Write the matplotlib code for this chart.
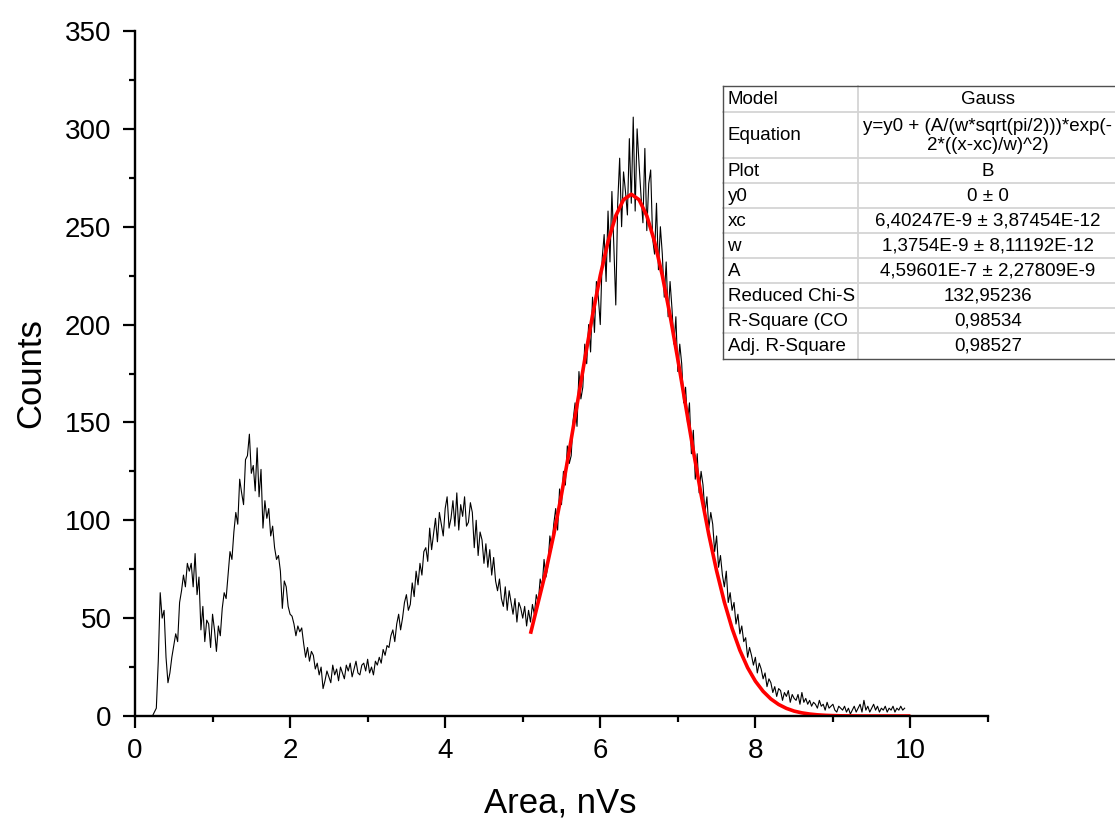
import numpy as np
import matplotlib
matplotlib.use("Agg")
import matplotlib.pyplot as plt
from matplotlib.lines import Line2D
from matplotlib.patches import Rectangle

plt.rcParams['font.family'] = ['Liberation Sans', 'DejaVu Sans']

# ---------------- data ----------------
x_start = 0.2
x_step = 0.025
counts = [
    # 0.200 - 0.675
    0, 0, 2, 4, 28, 63, 50, 54, 30, 17, 22, 30, 36, 42, 38, 58, 64, 72, 66, 78,
    # 0.700 - 1.175
    74, 78, 66, 83, 62, 71, 44, 56, 38, 49, 47, 35, 52, 44, 33, 46, 41, 55, 63, 60,
    # 1.200 - 1.675
    72, 84, 80, 94, 104, 98, 121, 114, 108, 131, 133, 144, 124, 128, 115, 137, 112, 126, 96, 110,
    # 1.700 - 2.175
    101, 106, 92, 97, 86, 80, 82, 74, 55, 69, 66, 56, 52, 51, 47, 41, 46, 43, 45, 37,
    # 2.200 - 2.675
    30, 35, 28, 33, 31, 24, 27, 21, 25, 14, 18, 23, 20, 17, 26, 21, 24, 18, 25, 22,
    # 2.700 - 3.175
    19, 26, 23, 27, 20, 24, 28, 22, 21, 26, 27, 23, 29, 22, 25, 21, 28, 26, 30, 27,
    # 3.200 - 3.675
    34, 31, 36, 35, 41, 44, 38, 47, 52, 44, 50, 58, 62, 54, 57, 68, 61, 74, 67, 78,
    # 3.700 - 4.175
    72, 84, 86, 79, 96, 85, 93, 101, 89, 104, 98, 92, 106, 112, 96, 101, 110, 97, 114, 95,
    # 4.200 - 4.675
    108, 102, 112, 97, 99, 109, 104, 86, 100, 82, 94, 90, 78, 88, 76, 85, 72, 81, 69, 64,
    # 4.700 - 5.175
    70, 60, 56, 66, 54, 64, 58, 52, 60, 48, 58, 55, 50, 56, 46, 54, 48, 57, 52, 62,
    # 5.200 - 5.675
    58, 70, 66, 80, 71, 77, 92, 86, 98, 106, 95, 116, 108, 125, 118, 138, 129, 133, 151, 160,
    # 5.700 - 6.175
    148, 176, 162, 168, 190, 180, 200, 186, 214, 196, 222, 214, 200, 234, 246, 222, 258, 232, 268, 240,
    # 6.200 - 6.675
    210, 262, 285, 250, 278, 268, 256, 295, 262, 306, 258, 300, 282, 266, 252, 290, 248, 272, 279, 244,
    # 6.700 - 7.175
    236, 262, 228, 250, 236, 214, 232, 204, 222, 208, 190, 204, 176, 190, 180, 160, 168, 150, 160, 134,
    # 7.200 - 7.675
    146, 121, 134, 114, 125, 118, 104, 112, 96, 104, 98, 84, 92, 76, 82, 72, 66, 74, 58, 63,
    # 7.700 - 8.175
    54, 58, 47, 52, 42, 46, 38, 40, 30, 35, 31, 26, 30, 22, 27, 24, 19, 22, 15, 19,
    # 8.200 - 8.675
    17, 12, 15, 10, 14, 13, 8, 12, 10, 13, 7, 11, 9, 8, 11, 6, 12, 7, 9, 6,
    # 8.700 - 9.175
    8, 5, 7, 6, 4, 8, 5, 6, 3, 7, 4, 5, 6, 3, 2, 5, 4, 3, 5, 2,
    # 9.200 - 9.675
    4, 1, 3, 5, 2, 4, 6, 2, 8, 3, 5, 2, 4, 6, 3, 5, 2, 4, 3, 5,
    # 9.700 - 9.925
    2, 4, 3, 5, 2, 4, 3, 5, 3, 4,
]
area = x_start + x_step * np.arange(len(counts))

# Gauss fit curve values (0.1 nVs steps, 5.1 .. 10.0)
fit_x = [round(5.1 + 0.1 * i, 1) for i in range(50)]
fit_y = [42.0, 58.2, 74.2, 92.6, 113.2, 135.5, 158.8, 182.2, 204.7, 225.1,
         242.4, 255.6, 263.8, 266.6, 263.8, 255.6, 242.4, 225.1, 204.7, 182.2,
         158.8, 135.5, 113.2, 92.6, 74.2, 58.2, 44.7, 33.6, 24.7, 17.8,
         12.6, 8.7, 5.9, 3.9, 2.5, 1.6, 1.0, 0.6, 0.35, 0.2,
         0.1, 0.05, 0.03, 0.0, 0.0, 0.0, 0.0, 0.0, 0.0, 0.0]

x_ticks = [0, 2, 4, 6, 8, 10]
y_ticks = [0, 50, 100, 150, 200, 250, 300, 350]

table_rows = [
    ("Model", ["Gauss"]),
    ("Equation", ["y=y0 + (A/(w*sqrt(pi/2)))*exp(-", "2*((x-xc)/w)^2)"]),
    ("Plot", ["B"]),
    ("y0", ["0 \u00b1 0"]),
    ("xc", ["6,40247E-9 \u00b1 3,87454E-12"]),
    ("w", ["1,3754E-9 \u00b1 8,11192E-12"]),
    ("A", ["4,59601E-7 \u00b1 2,27809E-9"]),
    ("Reduced Chi-S", ["132,95236"]),
    ("R-Square (CO", ["0,98534"]),
    ("Adj. R-Square", ["0,98527"]),
]

# ---------------- figure ----------------
W, H = 1115, 823
fig = plt.figure(figsize=(W / 100, H / 100), dpi=100)
fig.patch.set_facecolor('white')

ax_l, ax_r, ax_t, ax_b = 135, 988, 31, 716
ax = fig.add_axes([ax_l / W, 1 - ax_b / H, (ax_r - ax_l) / W, (ax_b - ax_t) / H])

ax.plot(area, counts, color='black', lw=0.8)
ax.plot(fit_x, fit_y, color='#ff0000', lw=2.6, solid_capstyle='butt')

ax.set_xlim(0, 11)
ax.set_ylim(0, 350)
ax.set_xticks(x_ticks)
ax.set_yticks(y_ticks)
ax.set_xticks([1, 3, 5, 7, 9, 11], minor=True)
ax.set_yticks([25, 75, 125, 175, 225, 275, 325], minor=True)
ax.set_xticklabels([str(t) for t in x_ticks])
ax.set_yticklabels([str(t) for t in y_ticks])

for s in ['top', 'right']:
    ax.spines[s].set_visible(False)
for s in ['left', 'bottom']:
    ax.spines[s].set_linewidth(1.7)

ax.tick_params(which='major', direction='out', length=8.5, width=1.6,
               labelsize=20, pad=7)
ax.tick_params(which='minor', direction='out', length=4.5, width=1.6)
ax.tick_params(axis='y', which='major', pad=8.5)

ax.set_xlabel("Area, nVs", fontsize=25, va='center')
ax.set_ylabel("Counts", fontsize=25, va='center')
ax.xaxis.set_label_coords((560 - ax_l) / (ax_r - ax_l), (ax_b - 803) / (ax_b - ax_t))
ax.yaxis.set_label_coords((31 - ax_l) / (ax_r - ax_l), 0.5)

# ---------------- fit results table (overlay in pixel coords) ----------------
ov = fig.add_axes([0, 0, 1, 1])
ov.set_xlim(0, W)
ov.set_ylim(H, 0)
ov.axis('off')
ov.patch.set_alpha(0)

tx0, tx1, tx2 = 722.5, 857.7, 1118
row_edges = [85.5, 112.3, 158.3, 183.3, 208.3, 233.3, 258.3, 283.3, 308.3, 333.3, 358.5]

ov.add_patch(Rectangle((tx0, row_edges[0]), tx2 - tx0, row_edges[-1] - row_edges[0],
                       facecolor='white', edgecolor='none', zorder=1))
for yy in row_edges[1:-1]:
    ov.add_line(Line2D([tx0, tx2], [yy, yy], color='#d4d4d4', lw=1.3, zorder=2))
ov.add_line(Line2D([tx1, tx1], [row_edges[0], row_edges[-1]], color='#d4d4d4', lw=1.3, zorder=2))
ov.add_line(Line2D([tx0, tx2], [row_edges[0], row_edges[0]], color='#505050', lw=1.0, zorder=3))
ov.add_line(Line2D([tx0, tx2], [row_edges[-1], row_edges[-1]], color='#505050', lw=1.0, zorder=3))
ov.add_line(Line2D([tx0, tx0], [row_edges[0], row_edges[-1]], color='#505050', lw=1.0, zorder=3))

col2_c = (tx1 + tx2) / 2
for i, (name, vals) in enumerate(table_rows):
    y0, y1 = row_edges[i], row_edges[i + 1]
    yc = (y0 + y1) / 2 + 0.5
    ov.text(tx0 + 5, yc, name, fontsize=13.5, ha='left', va='center', zorder=4)
    if len(vals) == 1:
        ov.text(col2_c, yc, vals[0], fontsize=13.5, ha='center', va='center', zorder=4)
    else:
        ov.text(col2_c, yc - 9.5, vals[0], fontsize=13.5, ha='center', va='center', zorder=4)
        ov.text(col2_c, yc + 9.5, vals[1], fontsize=13.5, ha='center', va='center', zorder=4)

fig.savefig("out.png", dpi=100, facecolor='white')
